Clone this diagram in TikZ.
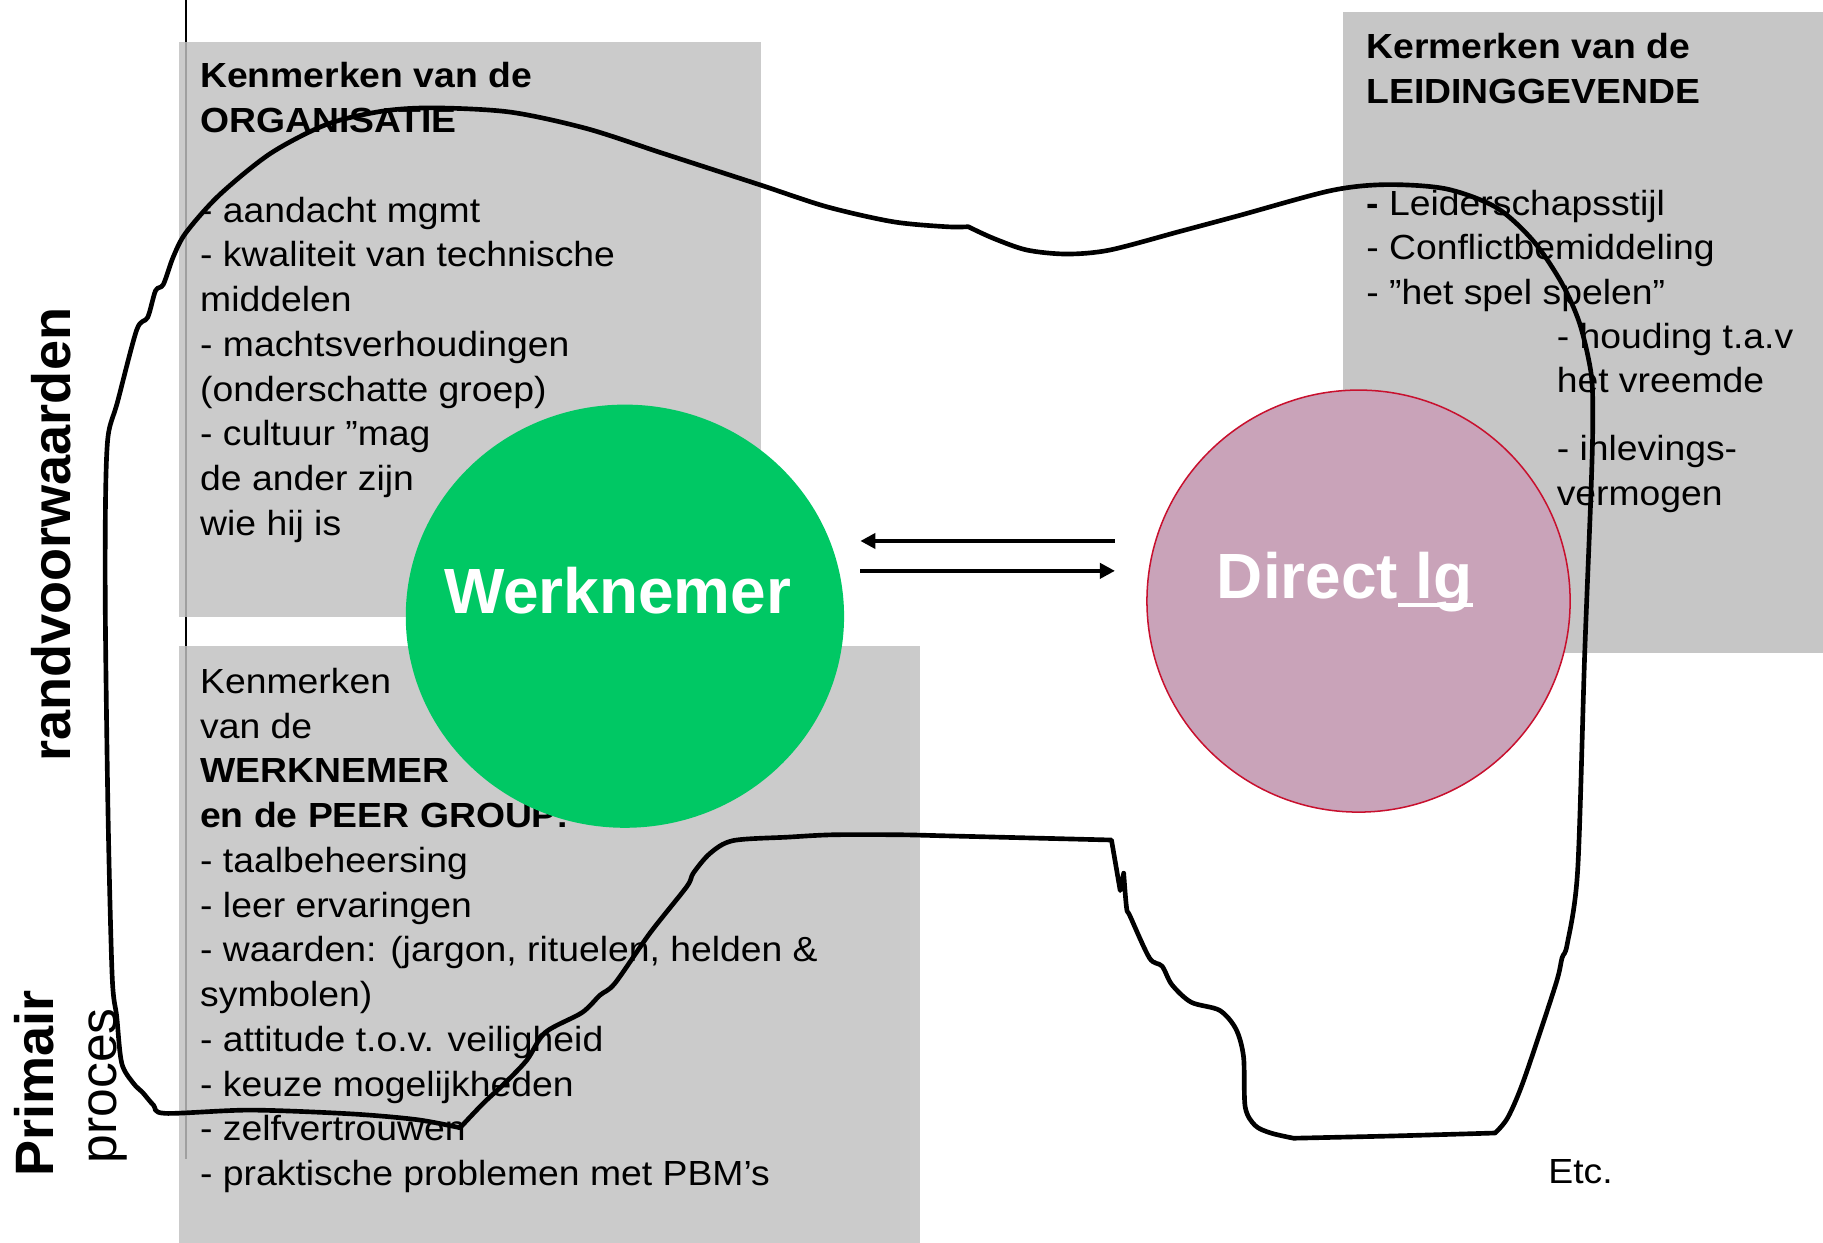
\documentclass[tikz,border=0pt]{standalone}
\usepackage{fontspec}
\setmainfont{Liberation Sans}
\newfontfamily\bodyfont[FakeStretch=1.07]{Liberation Sans}
\usetikzlibrary{arrows.meta,shapes.geometric}
\definecolor{boxgray}{RGB}{192,192,192}
\definecolor{wkgreen}{RGB}{0,200,100}
\definecolor{lgpink}{RGB}{201,163,185}
\definecolor{lgred}{RGB}{200,16,46}
\begin{document}
\begin{tikzpicture}[x=1pt,y=-1pt,
  boxfill/.style={fill=boxgray,fill opacity=0.83},
  bodytext/.style={anchor=base west,inner sep=0pt,font=\bodyfont\fontsize{30}{38.5}\selectfont},
  bigtext/.style={anchor=base west,inner sep=0pt,text=white,font=\bfseries\fontsize{55}{60}\selectfont},
  sidetext/.style={anchor=base west,inner sep=0pt,rotate=90},
  arr/.style={line width=3.2pt,-{Triangle[length=13pt,width=13pt]}},
  blob/.style={line width=4pt,line join=round,line cap=round}]
\useasboundingbox (0,0) rectangle (1568,1069);
% thin vertical line
\draw[line width=1.3pt] (160,0) -- (160,997);
% boxes
\fill[boxfill] (153.6,35.7) rectangle (654.5,530.5);
\fill[boxfill] (154,555.5) rectangle (791,1069);
\fill[boxfill,fill=boxgray!97!black] (1155.5,10.7) rectangle (1568,562);
% texts of the boxes
\node[bodytext] (orgtext) at (172,75.5) {\vtop{\baselineskip=38.5pt
  \hbox{\bfseries Kenmerken van de}\hbox{\bfseries ORGANISATIE}\hbox{}%
  \hbox{- aandacht mgmt}\hbox{- kwaliteit van technische}\hbox{middelen}%
  \hbox{- machtsverhoudingen}\hbox{(onderschatte groep)}\hbox{- cultuur ”mag}%
  \hbox{de ander zijn}\hbox{wie hij is}}};
\node[bodytext] (wntext) at (172,596.4) {\vtop{\baselineskip=38.48pt
  \hbox{Kenmerken}\hbox{van de}\hbox{\bfseries WERKNEMER}\hbox{\bfseries en de PEER GROUP:}%
  \hbox{- taalbeheersing}\hbox{- leer ervaringen}\hbox{- waarden: (jargon, rituelen, helden \&}%
  \hbox{symbolen)}\hbox{- attitude t.o.v. veiligheid}\hbox{- keuze mogelijkheden}%
  \hbox{- zelfvertrouwen}\hbox{- praktische problemen met PBM’s}}};
\node[bodytext] (lghead) at (1175,50) {\vtop{\baselineskip=39.2pt
  \hbox{\bfseries Kermerken van de}\hbox{\bfseries LEIDINGGEVENDE}}};
\node[bodytext] (lglist) at (1175,185.6) {\vtop{\baselineskip=38pt
  \hbox{{\bfseries -} Leiderschapsstijl}\hbox{- Conflictbemiddeling}\hbox{- ”het spel spelen”}}};
\node[bodytext] (lghouding) at (1338.8,299.8) {\vtop{\baselineskip=37.5pt
  \hbox{- houding t.a.v}\hbox{het vreemde}}};
\node[bodytext] (lginleving) at (1338.8,396.2) {\vtop{\baselineskip=38.5pt
  \hbox{- inlevings-}\hbox{vermogen}}};
\node[bodytext] (etc) at (1331.6,1018) {Etc.};
% side labels
\node[sidetext,font=\bfseries\fontsize{46.5}{50}\selectfont] (randv) at (60.8,655.2) {randvoorwaarden};
\node[sidetext,font=\bfseries\fontsize{46.5}{50}\selectfont] (primair) at (45.8,1012) {Primair};
\node[sidetext,font=\fontsize{44.4}{50}\selectfont] (proces) at (100,1000.6) {proces};
% circles
\node[ellipse,fill=wkgreen,inner sep=0pt,minimum width=377pt,minimum height=364pt] (wk) at (537.5,530) {};
\node[ellipse,fill=lgpink,draw=lgred,line width=1.3pt,inner sep=0pt,minimum width=364pt,minimum height=363pt] (lg) at (1168.5,517) {};
\node[bigtext] (wktext) at (381.8,527.5) {Werknemer};
\node[bigtext] (lgtext) at (1046.5,515.2) {Direct lg};
\draw[white,line width=3.4pt] ([xshift=156pt,yshift=-5.2pt]lgtext.base west) -- ([yshift=-5.2pt]lgtext.base east);
% arrows
\coordinate (a1s) at (959,465.3);
\coordinate (a1e) at (740,465.3);
\coordinate (a2s) at (740,491);
\coordinate (a2e) at (959,491);
\draw[arr] (a1s) -- (a1e);
\draw[arr] (a2s) -- (a2e);
% freehand outline
\draw[blob]
 plot[smooth,tension=0.5] coordinates {(832.8,195) (814,195) (768,190.7) (711,177.8) (653.7,159) (570.5,132) (504.7,110.6) (438.8,96.4) (373,92.8) (329,95.6) (281,107) (232.6,132) (188.7,167.7) (160,200) (149,221) (140.5,244.6) (133.8,250) (127,273) (117.6,283.7) (101,346) (93,374.8) (90.8,428) (90.6,530) (93,704) (96.5,840) (100.4,874.5) (104.7,914.5) (114.7,931.7) (123,940) (132,950.5) (142,957.6) (215,954.8) (301,958) (358.4,963) (395.7,970)}
 -- plot[smooth,tension=0.5] coordinates {(395.7,970) (415.6,949) (432.8,933) (453,912) (469,888) (500.5,871) (516,856) (529,845.6) (559,802.6) (590.6,762.7) (596.3,751) (610.7,734) (630.6,723) (678,720) (716.5,718) (774,718) (817,719) (956,722.5)}
 -- (963.5,766) -- (966.5,751)
 -- plot[smooth,tension=0.5] coordinates {(966.5,751) (969,781) (972,788) (988.7,824) (999.5,831) (1008,847) (1024.5,862) (1049,869) (1063,885) (1069.6,909) (1071,952) (1079.5,968) (1093,974.5) (1112.6,979)}
 -- plot[smooth,tension=0.5] coordinates {(1112.6,979) (1200,977) (1286,974.5)}
 -- plot[smooth,tension=0.5] coordinates {(1286,974.5) (1297,961) (1311,928) (1338,847) (1343.5,824) (1348,812) (1357,748) (1363,563) (1368.5,421.5) (1370,360) (1368.5,321) (1358.6,278) (1343,243) (1318.6,207) (1287,178.5) (1243.6,162.4) (1192,158.8) (1144.4,164) (1065,185.6) (1015,199) (954.8,215) (917.5,218.5) (883,215) (854,204.8) (832.8,195)}
 -- cycle;
\end{tikzpicture}
\end{document}
